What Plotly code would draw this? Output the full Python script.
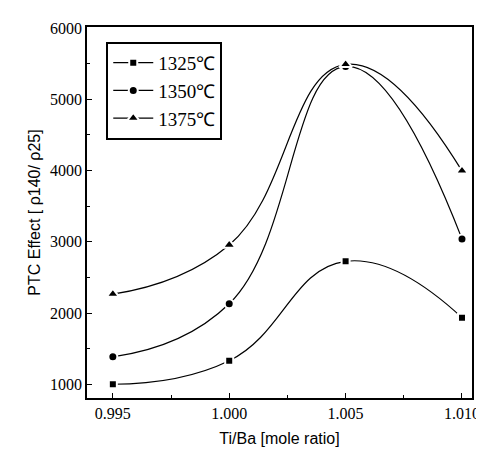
import plotly.graph_objects as go

ratio = [0.995, 1.000, 1.005, 1.010]
t1325 = [1000, 1330, 2725, 1935]
t1350 = [1385, 2130, 5460, 3040]
t1375 = [2265, 2955, 5490, 3995]
series = [("1325℃", t1325, "square", 8), ("1350℃", t1350, "circle", 9), ("1375℃", t1375, "triangle-up", 11)]
x_ticks = [0.995, 1.000, 1.005, 1.010]
x_labels = ["0.995", "1.000", "1.005", "1.010"]
y_ticks = [1000, 2000, 3000, 4000, 5000, 6000]

fig = go.Figure()
for name, vals, sym, sz in series:
    fig.add_trace(go.Scatter(
        x=ratio, y=vals, name=name, mode="lines+markers",
        line=dict(color="black", width=1.2, shape="spline", smoothing=1.3),
        marker=dict(symbol=sym, size=sz, color="black", line=dict(color="white", width=2)),
    ))

serif = "Liberation Serif, Times New Roman, serif"
sans = "Liberation Sans, Arial, sans-serif"
fig.update_layout(
    width=484, height=449,
    margin=dict(l=79, r=18, t=16, b=55),
    paper_bgcolor="white", plot_bgcolor="white",
    showlegend=True,
    legend=dict(x=0.05, y=0.96, xanchor="left", yanchor="top",
                bordercolor="black", borderwidth=2, bgcolor="white",
                font=dict(family=serif, size=19, color="black"),
                tracegroupgap=2, itemwidth=40),
    xaxis=dict(range=[0.99389, 1.01043], tickvals=x_ticks, ticktext=x_labels,
               ticks="inside", ticklen=5, tickwidth=1, tickcolor="black",
               minor=dict(dtick=0.0025, tick0=0.9975, ticks="inside", ticklen=3, tickcolor="black"),
               showline=True, linecolor="black", linewidth=1.5, mirror=True,
               showgrid=False, zeroline=False,
               tickfont=dict(family=serif, size=16, color="black"),
               title=dict(text="Ti/Ba [mole ratio]", font=dict(family=sans, size=16, color="black"), standoff=12)),
    yaxis=dict(range=[807, 6014], tickvals=y_ticks,
               ticks="inside", ticklen=5, tickwidth=1, tickcolor="black",
               minor=dict(dtick=500, tick0=500, ticks="inside", ticklen=3, tickcolor="black"),
               showline=True, linecolor="black", linewidth=1.5, mirror=True,
               showgrid=False, zeroline=False,
               tickfont=dict(family=serif, size=16, color="black"),
               title=dict(text="PTC Effect [ ρ140/ ρ25]", font=dict(family=sans, size=16, color="black"), standoff=5)),
)
fig.write_html("out.html")
